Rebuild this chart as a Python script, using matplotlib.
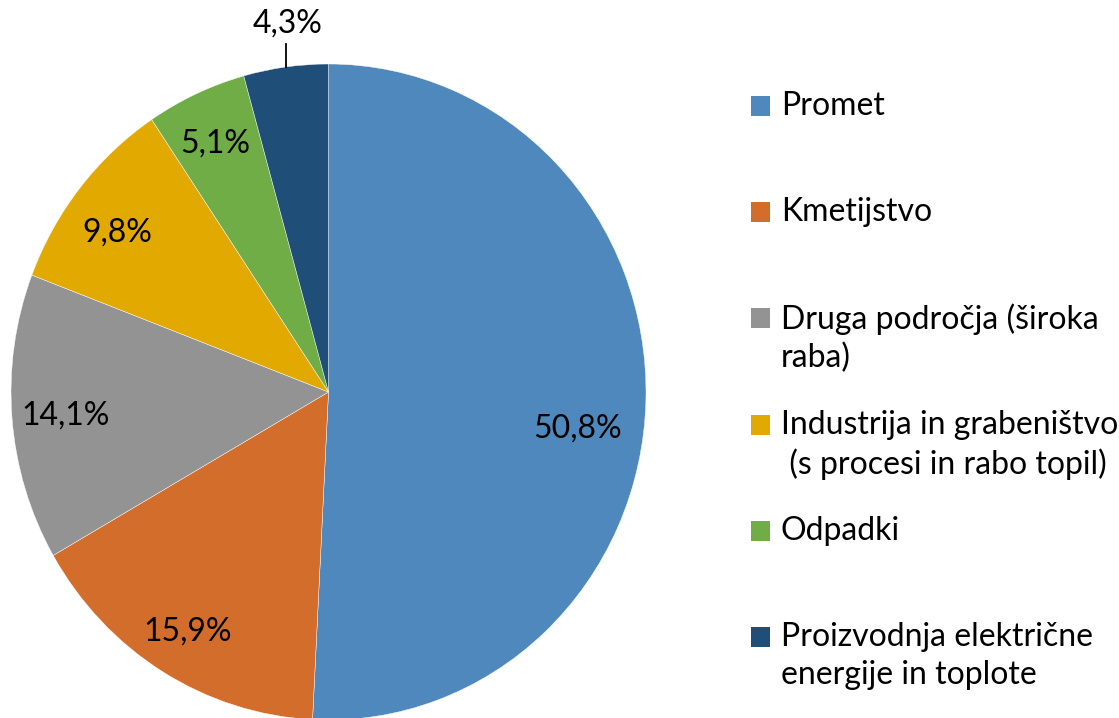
import matplotlib
matplotlib.use("Agg")
import matplotlib.pyplot as plt
from matplotlib.patches import Rectangle

categories = ["Promet", "Kmetijstvo", "Druga področja (široka\nraba)",
              "Industrija in grabeništvo\n (s procesi in rabo topil)", "Odpadki",
              "Proizvodnja električne\nenergije in toplote"]
values = [50.8, 15.9, 14.1, 9.8, 5.1, 4.3]
value_labels = ["50,8%", "15,9%", "14,1%", "9,8%", "5,1%", "4,3%"]
colors = ["#4F88BC", "#D36D2C", "#939393", "#E2A900", "#70AD47", "#1F4E79"]

# label positions (axes data units, pie radius = 1)
label_pos = [(0.786, -0.110), (-0.443, -0.731), (-0.827, -0.073),
             (-0.666, 0.486), (-0.357, 0.758), (-0.130, 1.122)]

plt.rcParams['font.family'] = ['Lato', 'DejaVu Sans']

W, H = 1119, 718
fig = plt.figure(figsize=(W / 100, H / 100), dpi=100)
# pie box in pixels: x 11..646, y 64..718 (top-down)
ax = fig.add_axes([11 / W, -2 / H, 635 / W, 656 / H])
wedges, _ = ax.pie(values, colors=colors, startangle=90, counterclock=False,
                   radius=1, wedgeprops=dict(edgecolor="white", linewidth=0.3))
ax.set_aspect('auto')
ax.set_xlim(-1, 1)
ax.set_ylim(-1, 1)
ax.axis('off')
for w in wedges:
    w.set_clip_on(False)

fs = 23
for (x, y), lab in zip(label_pos, value_labels):
    ax.text(x, y, lab, ha='center', va='center', fontsize=fs, color='black', clip_on=False)

# leader line for the smallest slice
ax.plot([-0.134, -0.134], [1.061, 0.99], color='black', lw=1.3, clip_on=False)

# legend drawn manually
y0 = 106
step = 106.2
for i, (cat, col) in enumerate(zip(categories, colors)):
    yc = y0 + i * step
    fig.patches.append(Rectangle((751 / W, 1 - (yc + 10) / H), 19 / W, 20 / H,
                                 transform=fig.transFigure, facecolor=col,
                                 edgecolor='none'))
    fig.text(781 / W, 1 - (yc - 15) / H, cat, ha='left', va='top', fontsize=fs,
             color='black', linespacing=1.33)

fig.savefig("out.png", dpi=100, facecolor='white')
